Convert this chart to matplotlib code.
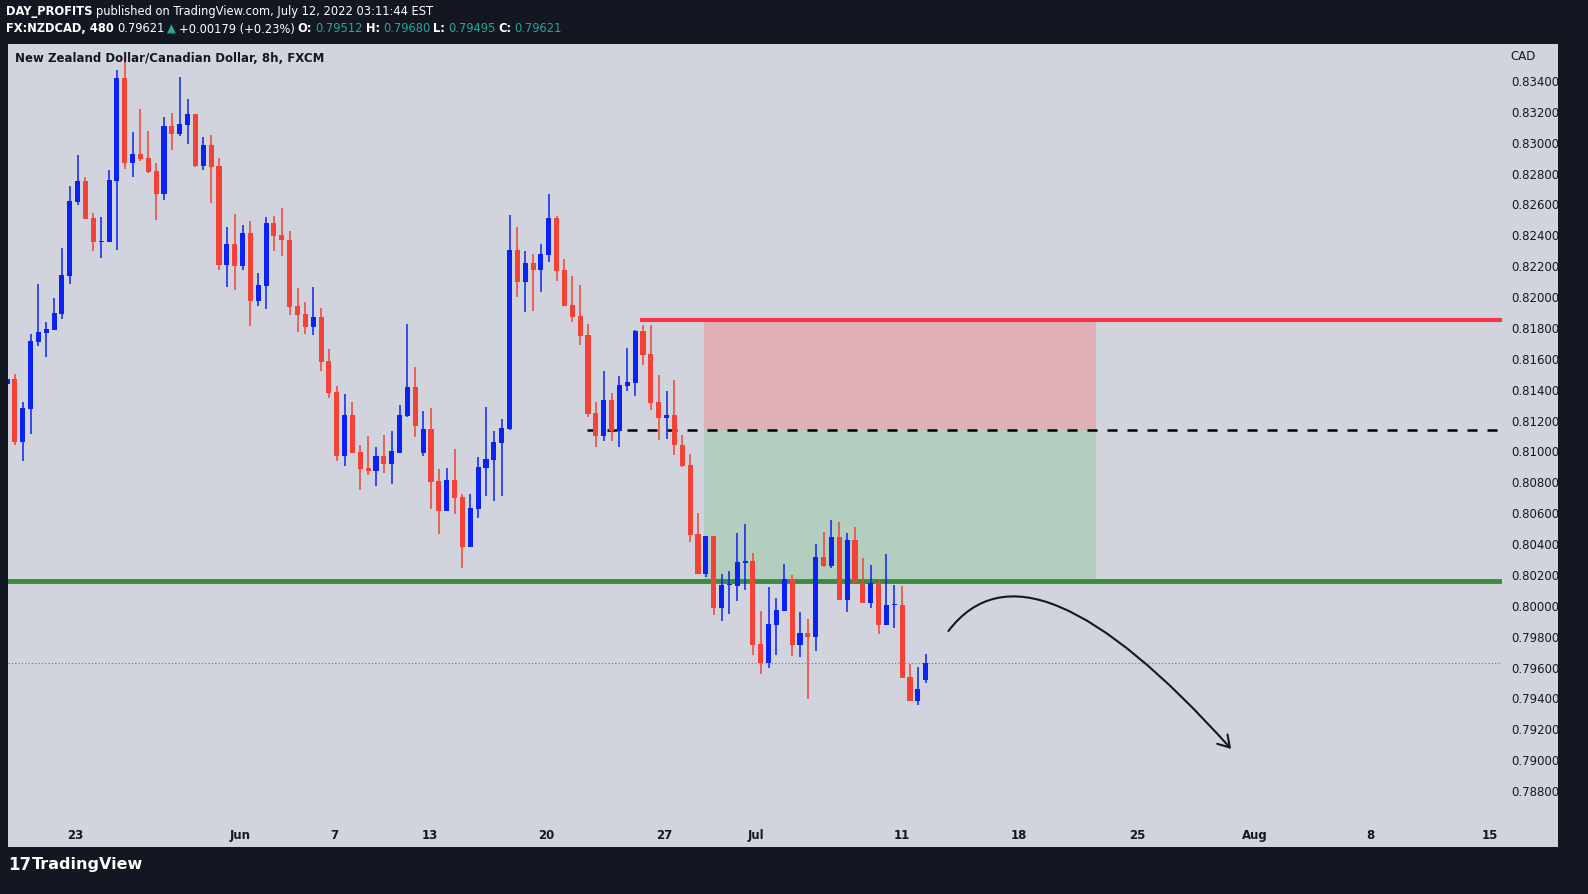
import matplotlib.pyplot as plt
import numpy as np
from matplotlib.patches import Rectangle, FancyArrowPatch
from matplotlib.path import Path

# 8h NZDCAD candles (prices)
opens = [0.81430, 0.81463, 0.81054, 0.81268, 0.81703, 0.81761, 0.81780, 0.81884, 0.82130, 0.82610,
         0.82746, 0.82506, 0.82350, 0.82350, 0.82746, 0.83413, 0.82862, 0.82921, 0.82895, 0.82811,
         0.82661, 0.83102, 0.83050, 0.83109, 0.83180, 0.82843, 0.82979, 0.82843, 0.82201, 0.82337,
         0.82195, 0.82409, 0.81968, 0.82066, 0.82473, 0.82396, 0.82363, 0.81936, 0.81884, 0.81800,
         0.81864, 0.81579, 0.81378, 0.80964, 0.81229, 0.80990, 0.80886, 0.80867, 0.80964, 0.80912,
         0.80983, 0.81223, 0.81411, 0.80983, 0.81139, 0.80802, 0.80607, 0.80809, 0.80698, 0.80374,
         0.80620, 0.80886, 0.80938, 0.81048, 0.81139, 0.82299, 0.82091, 0.82214, 0.82169, 0.82266,
         0.82506, 0.82169, 0.81942, 0.81871, 0.81748, 0.81242, 0.81093, 0.81327, 0.81126, 0.81417,
         0.81437, 0.81774, 0.81624, 0.81314, 0.81210, 0.81229, 0.81035, 0.80905, 0.80458, 0.80199,
         0.80445, 0.79979, 0.80128, 0.80121, 0.80270, 0.80283, 0.79745, 0.79622, 0.79868, 0.79959,
         0.80167, 0.79739, 0.79817, 0.79791, 0.80309, 0.80251, 0.80439, 0.80031, 0.80419, 0.80141,
         0.80011, 0.80141, 0.79868, 0.79998, 0.79998, 0.79532, 0.79376, 0.79512]
highs = [0.81476, 0.81495, 0.81314, 0.81754, 0.82078, 0.81832, 0.81987, 0.82311, 0.82713, 0.82914,
         0.82772, 0.82538, 0.82512, 0.82817, 0.83465, 0.83517, 0.83063, 0.83212, 0.83070, 0.82862,
         0.83160, 0.83186, 0.83420, 0.83277, 0.83180, 0.83031, 0.83044, 0.82895, 0.82448, 0.82532,
         0.82461, 0.82486, 0.82149, 0.82512, 0.82519, 0.82571, 0.82422, 0.82052, 0.81962, 0.82059,
         0.81923, 0.81657, 0.81417, 0.81365, 0.81314, 0.81035, 0.81093, 0.81022, 0.81099, 0.81126,
         0.81294, 0.81819, 0.81540, 0.81255, 0.81275, 0.80879, 0.80886, 0.81009, 0.80717, 0.80717,
         0.80957, 0.81281, 0.81126, 0.81203, 0.82525, 0.82448, 0.82292, 0.82273, 0.82337, 0.82661,
         0.82519, 0.82240, 0.82130, 0.82072, 0.81819, 0.81314, 0.81514, 0.81372, 0.81482, 0.81663,
         0.81780, 0.81813, 0.81813, 0.81489, 0.81385, 0.81456, 0.81099, 0.80977, 0.80594, 0.80445,
         0.80445, 0.80199, 0.80218, 0.80465, 0.80523, 0.80335, 0.79959, 0.80115, 0.80043, 0.80264,
         0.80193, 0.79953, 0.79907, 0.80393, 0.80471, 0.80549, 0.80536, 0.80465, 0.80504, 0.80303,
         0.80257, 0.80167, 0.80329, 0.80128, 0.80121, 0.79616, 0.79596, 0.79680]
lows = [0.81417, 0.81035, 0.80931, 0.81106, 0.81676, 0.81605, 0.81780, 0.81851, 0.82078, 0.82590,
        0.82499, 0.82292, 0.82247, 0.82350, 0.82299, 0.82823, 0.82772, 0.82875, 0.82797, 0.82493,
        0.82623, 0.82947, 0.83037, 0.82985, 0.82836, 0.82817, 0.82603, 0.82169, 0.82059, 0.82039,
        0.82169, 0.81806, 0.81936, 0.81916, 0.82292, 0.82260, 0.81877, 0.81767, 0.81754, 0.81748,
        0.81514, 0.81339, 0.80931, 0.80899, 0.80983, 0.80743, 0.80841, 0.80769, 0.80853, 0.80782,
        0.80983, 0.81216, 0.81087, 0.80964, 0.80620, 0.80458, 0.80607, 0.80588, 0.80238, 0.80374,
        0.80562, 0.80704, 0.80672, 0.80704, 0.81133, 0.81994, 0.81897, 0.81903, 0.82026, 0.82221,
        0.82098, 0.81936, 0.81832, 0.81683, 0.81216, 0.81022, 0.81061, 0.81061, 0.81022, 0.81385,
        0.81352, 0.81553, 0.81262, 0.81067, 0.81074, 0.80970, 0.80892, 0.80406, 0.80199, 0.80180,
        0.79933, 0.79894, 0.79940, 0.80024, 0.80095, 0.79674, 0.79551, 0.79590, 0.79674, 0.79959,
        0.79668, 0.79661, 0.79389, 0.79700, 0.80244, 0.80238, 0.80031, 0.79953, 0.80134, 0.80011,
        0.79979, 0.79810, 0.79868, 0.79849, 0.79525, 0.79376, 0.79350, 0.79495]
closes = [0.81463, 0.81054, 0.81275, 0.81709, 0.81767, 0.81787, 0.81890, 0.82137, 0.82616, 0.82746,
          0.82499, 0.82350, 0.82357, 0.82752, 0.83413, 0.82862, 0.82921, 0.82888, 0.82804, 0.82661,
          0.83102, 0.83050, 0.83115, 0.83180, 0.82843, 0.82979, 0.82836, 0.82201, 0.82337, 0.82195,
          0.82409, 0.81968, 0.82072, 0.82473, 0.82389, 0.82363, 0.81929, 0.81877, 0.81800, 0.81864,
          0.81573, 0.81372, 0.80964, 0.81229, 0.80983, 0.80879, 0.80867, 0.80964, 0.80912, 0.80996,
          0.81229, 0.81411, 0.81158, 0.81139, 0.80795, 0.80607, 0.80809, 0.80691, 0.80374, 0.80627,
          0.80892, 0.80944, 0.81054, 0.81145, 0.82299, 0.82091, 0.82214, 0.82169, 0.82273, 0.82506,
          0.82162, 0.81936, 0.81864, 0.81741, 0.81236, 0.81093, 0.81327, 0.81126, 0.81424, 0.81443,
          0.81774, 0.81618, 0.81307, 0.81210, 0.81229, 0.81035, 0.80899, 0.80452, 0.80199, 0.80445,
          0.79979, 0.80128, 0.80134, 0.80277, 0.80283, 0.79739, 0.79622, 0.79875, 0.79966, 0.80167,
          0.79739, 0.79817, 0.79791, 0.80309, 0.80251, 0.80439, 0.80031, 0.80419, 0.80147, 0.80011,
          0.80141, 0.79868, 0.79998, 0.80004, 0.79525, 0.79376, 0.79454, 0.79621]

date_labels = ["23", "Jun", "7", "13", "20", "27", "Jul", "11", "18", "25", "Aug", "8", "15"]
date_bars = [8.7, 29.7, 41.7, 53.8, 68.7, 83.7, 95.4, 113.9, 128.9, 143.9, 158.9, 173.7, 188.8]
price_ticks = np.arange(0.788, 0.8341, 0.002)

stop_level = 0.81845
entry_level = 0.81133
target_level = 0.80154
last_price = 0.79621

UP = "#0a22f5"
DOWN = "#f44336"
DARK = "#131722"
LIGHT = "#d1d4dc"
TEAL = "#26a69a"
W, H = 1588, 895

fig = plt.figure(figsize=(15.88, 8.95), dpi=100, facecolor=DARK)
fig.add_artist(Rectangle((8 / W, 1 - 848 / H), 1550 / W, 803 / H,
                         transform=fig.transFigure, facecolor=LIGHT, edgecolor="none", zorder=0))
ax = fig.add_axes([8 / W, 1 - 818 / H, 1494 / W, 773 / H])
ax.set_facecolor(LIGHT)
for s in ax.spines.values():
    s.set_visible(False)

x = np.arange(len(opens))
o, h, l, c = map(np.array, (opens, highs, lows, closes))
cols = np.where(c >= o, UP, DOWN)
ax.vlines(x, l, h, colors=cols, linewidth=1.1, zorder=3)
ax.bar(x, np.maximum(np.abs(c - o), 0.00004), bottom=np.minimum(o, c), width=0.65,
       color=cols, zorder=3)

# risk/reward zone
z0, z1 = 88.8, 138.7
ax.add_patch(Rectangle((z0, entry_level), z1 - z0, stop_level - entry_level,
                       facecolor="#f08d98", alpha=0.5, edgecolor="none", zorder=1))
ax.add_patch(Rectangle((z0, target_level), z1 - z0, entry_level - target_level,
                       facecolor="#9cc9a6", alpha=0.55, edgecolor="none", zorder=1))
ax.plot([80.9, 200], [stop_level] * 2, color="#f23645", linewidth=3, zorder=2)
ax.plot([73.9, 200], [entry_level] * 2, color="black", linewidth=1.8,
        linestyle=(0, (4, 4)), zorder=2)
ax.axhline(target_level, color="#388e3c", linewidth=3.5, zorder=2)
ax.axhline(last_price, color="#5b6cd8", linewidth=0.8, linestyle=(0, (1, 2)), zorder=2)

# projected path arrow
path = Path([(119.9, 0.79830), (130.2, 0.80523), (155.9, 0.79066)],
            [Path.MOVETO, Path.CURVE3, Path.CURVE3])
ax.add_patch(FancyArrowPatch(path=path, arrowstyle="->,head_length=8,head_width=5",
                             color="#131722", linewidth=1.5, zorder=4))

ax.set_xlim(0.13, 190.4)
ax.set_ylim(0.78625, 0.83633)
ax.yaxis.tick_right()
ax.set_yticks(price_ticks)
ax.set_yticklabels([f"{p:.5f}" for p in price_ticks])
ax.set_xticks(date_bars)
ax.set_xticklabels(date_labels)
ax.tick_params(axis="y", length=0, pad=7, labelsize=8.5, labelcolor="#131722")
ax.tick_params(axis="x", length=0, pad=8, labelsize=8.5, labelcolor="#131722")
for t in ax.get_xticklabels():
    t.set_fontweight("bold")

fig.text(1510 / W, 1 - 57 / H, "CAD", fontsize=8.5, color="#131722", va="center")
fig.text(15 / W, 1 - 59 / H, "New Zealand Dollar/Canadian Dollar, 8h, FXCM",
         fontsize=8.5, fontweight="bold", color="#131722", va="center")

# header lines, laid out segment after segment
renderer = fig.canvas.get_renderer()


def text_row(y_px, parts, size=8.3):
    xp = 6
    for txt, color, bold in parts:
        t = fig.text(xp / W, 1 - y_px / H, txt, color=color, fontsize=size, va="center",
                     fontweight="bold" if bold else "normal")
        xp += t.get_window_extent(renderer).width + 3


text_row(12, [("DAY_PROFITS", "white", True),
              ("published on TradingView.com, July 12, 2022 03:11:44 EST", "white", False)])
text_row(29, [("FX:NZDCAD, 480", "white", True), ("0.79621", "white", False),
              ("\u25b2", TEAL, False), ("+0.00179 (+0.23%)", "white", False),
              ("O:", "white", True), ("0.79512", TEAL, False),
              ("H:", "white", True), ("0.79680", TEAL, False),
              ("L:", "white", True), ("0.79495", TEAL, False),
              ("C:", "white", True), ("0.79621", TEAL, False)])

fig.text(8 / W, 1 - 865 / H, "17", fontsize=12, fontweight="bold", color="white", va="center")
fig.text(32 / W, 1 - 865 / H, "TradingView", fontsize=11.5, fontweight="bold", color="white",
         va="center")

fig.savefig("out.png", dpi=100, facecolor=DARK)
